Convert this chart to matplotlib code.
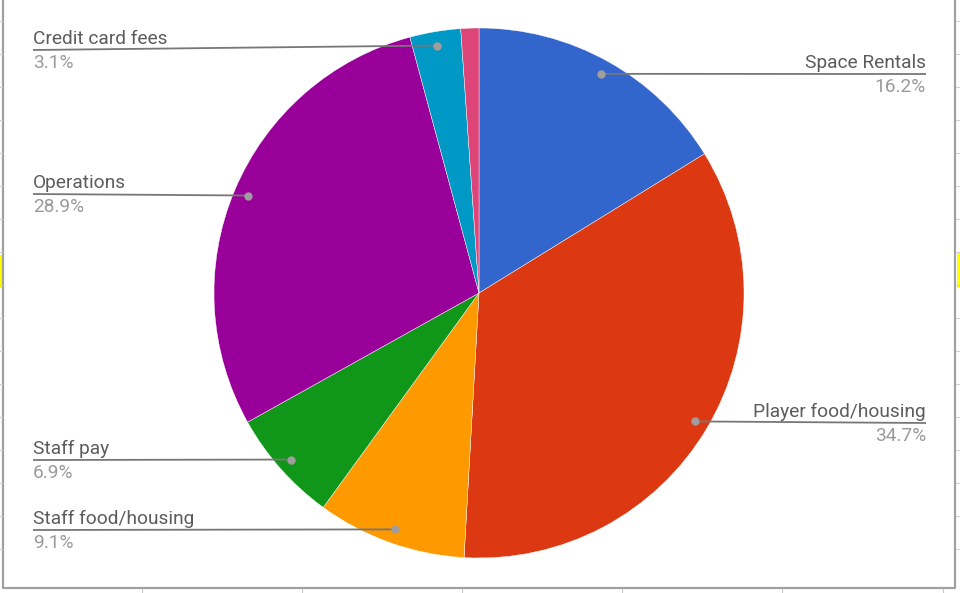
import numpy as np
import matplotlib.pyplot as plt
from matplotlib.patches import Rectangle

# Data
categories = ['Space Rentals', 'Player food/housing', 'Staff food/housing',
              'Staff pay', 'Operations', 'Credit card fees', '']
shares = [16.2, 34.7, 9.1, 6.9, 28.9, 3.1, 1.1]
colors = ['#3366cc', '#dc3912', '#ff9900', '#109618', '#990099', '#0099c6', '#dd4477']

# Label layout (pixel coords from top): side, x of text end, y of leader line
label_layout = {
    'Space Rentals': ('right', 926, 74),
    'Player food/housing': ('right', 926, 423),
    'Staff food/housing': ('left', 33, 530),
    'Staff pay': ('left', 33, 460),
    'Operations': ('left', 33, 194),
    'Credit card fees': ('left', 33, 50),
}

W, H = 960, 593
fig = plt.figure(figsize=(W / 100, H / 100), dpi=100)
ax = fig.add_axes([0, 0, 1, 1])

plt.rcParams['font.family'] = ['Roboto', 'DejaVu Sans']

cx, cy, R = 479, H - 293, 265
wedges, _ = ax.pie(shares, colors=colors, startangle=90, counterclock=False,
                   center=(cx, cy), radius=R, frame=True,
                   wedgeprops=dict(edgecolor='white', linewidth=0.3))
ax.set_xlim(0, W)
ax.set_ylim(0, H)
ax.set_aspect('equal')
ax.axis('off')

total = sum(shares)
for w, name, val in zip(wedges, categories, shares):
    if not name:
        continue
    mid = np.deg2rad((w.theta1 + w.theta2) / 2)
    dx = cx + 0.947 * R * np.cos(mid)
    dy = cy + 0.947 * R * np.sin(mid)
    side, tx, ly = label_layout[name]
    ly = H - ly
    ax.plot([tx, dx], [ly, dy], color='#777777', lw=1.3, zorder=3,
            solid_capstyle='butt')
    ax.plot(dx, dy, 'o', color='#9e9e9e', ms=5, zorder=4)
    ha = 'left' if side == 'left' else 'right'
    ax.text(tx, ly + 6, name, ha=ha, va='baseline', fontsize=13.8, color='#5c5c5c')
    ax.text(tx, ly - 18, f'{val / total * 100:.1f}%', ha=ha, va='baseline',
            fontsize=13.8, color='#9a9a9a')

# Spreadsheet surroundings: chart border, row/column ticks, selection marks
bx0, bx1, by = 3, 955, H - 588
ax.plot([bx0, bx0, bx1, bx1], [H, by, by, H], color='#a0a0a0', lw=1.6)
for y in np.arange(21, 580, 33):
    ax.plot([0, 2], [H - y, H - y], color='#d0d0d0', lw=0.8)
    ax.plot([956, W], [H - y, H - y], color='#d0d0d0', lw=0.8)
for x in [142, 302, 462, 622, 782, 943]:
    ax.plot([x, x], [0, by - 1], color='#c8c8c8', lw=0.8)
ax.add_patch(Rectangle((0, H - 288), 2, 33, color='#ffff00', lw=0))
ax.add_patch(Rectangle((957, H - 288), 3, 36, color='#ffff00', lw=0))

fig.savefig('out.png', dpi=100)
